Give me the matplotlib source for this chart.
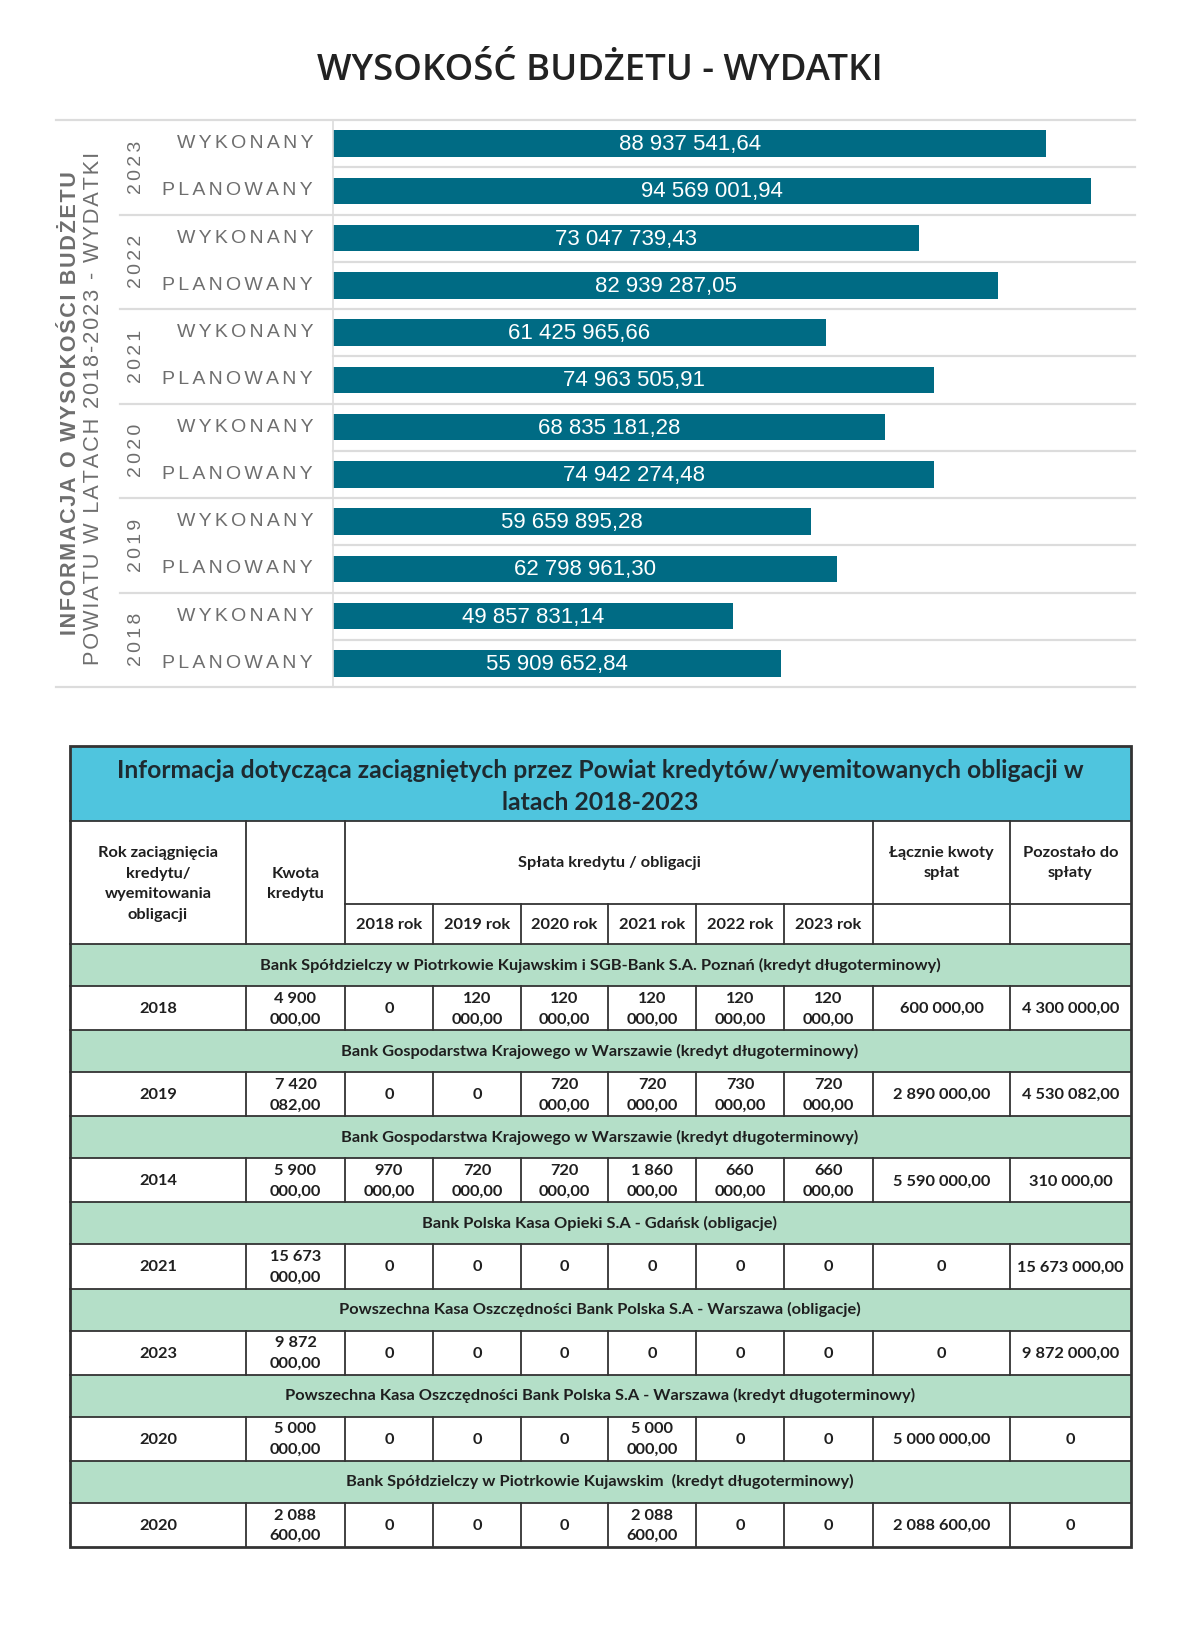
import matplotlib
matplotlib.use('Agg')
import matplotlib.pyplot as plt
from matplotlib.patches import Rectangle

# ---- data: budget bars (top to bottom) ----
years = ['2023', '2022', '2021', '2020', '2019', '2018']
kinds = ['WYKONANY', 'PLANOWANY']
wykonany = [88937541.64, 73047739.43, 61425965.66, 68835181.28, 59659895.28, 49857831.14]
planowany = [94569001.94, 82939287.05, 74963505.91, 74942274.48, 62798961.30, 55909652.84]

# ---- data: credits table ----
banks = [
    'Bank Spółdzielczy w Piotrkowie Kujawskim i SGB-Bank S.A. Poznań (kredyt długoterminowy)',
    'Bank Gospodarstwa Krajowego w Warszawie (kredyt długoterminowy)',
    'Bank Gospodarstwa Krajowego w Warszawie (kredyt długoterminowy)',
    'Bank Polska Kasa Opieki S.A - Gdańsk (obligacje)',
    'Powszechna Kasa Oszczędności Bank Polska S.A - Warszawa (obligacje)',
    'Powszechna Kasa Oszczędności Bank Polska S.A - Warszawa (kredyt długoterminowy)',
    'Bank Spółdzielczy w Piotrkowie Kujawskim  (kredyt długoterminowy)',
]
loan_year = ['2018', '2019', '2014', '2021', '2023', '2020', '2020']
loan_amount = [4900000, 7420082, 5900000, 15673000, 9872000, 5000000, 2088600]
repay_years = ['2018 rok', '2019 rok', '2020 rok', '2021 rok', '2022 rok', '2023 rok']
repayments = [
    [0, 120000, 120000, 120000, 120000, 120000],
    [0, 0, 720000, 720000, 730000, 720000],
    [970000, 720000, 720000, 1860000, 660000, 660000],
    [0, 0, 0, 0, 0, 0],
    [0, 0, 0, 0, 0, 0],
    [0, 0, 0, 5000000, 0, 0],
    [0, 0, 0, 2088600, 0, 0],
]
repaid_total = [600000, 2890000, 5590000, 0, 0, 5000000, 2088600]
remaining = [4300000, 4530082, 310000, 15673000, 9872000, 0, 0]


def pl(v):
    if v == 0:
        return '0'
    return f'{v:,.2f}'.replace(',', ' ').replace('.', ',')


def pl2(v):
    s = pl(v)
    if ' ' in s:
        a, b = s.rsplit(' ', 1)
        return a + '\n' + b
    return s


def spaced(s, n=1):
    return ('\u200a' * n).join(s)


W, H = 1200, 1630
fig = plt.figure(figsize=(W / 100, H / 100), dpi=100)

# overlay in pixel coordinates for table and decorations
ov = fig.add_axes([0, 0, 1, 1])
ov.set_xlim(0, W)
ov.set_ylim(H, 0)
ov.axis('off')

fig.text(0.5, 1 - 71 / H, 'WYSOKOŚĆ BUDŻETU - WYDATKI', ha='center', va='center',
         fontsize=26.3, fontweight='semibold', family='Open Sans', color='#222222')

# ---- bar chart ----
X0, X1, Y0, Y1 = 333, 1135, 120, 687
ax = fig.add_axes([X0 / W, 1 - Y1 / H, (X1 - X0) / W, (Y1 - Y0) / H])
ax.patch.set_alpha(0)
vals, labs = [], []
for w, p in zip(wykonany, planowany):
    vals += [w, p]
    labs += kinds
pos = list(range(len(vals)))
bar_color = '#006b84'
ax.barh(pos, vals, height=0.56, color=bar_color)
ax.set_xlim(0, 100e6)
ax.set_ylim(len(vals) - 0.5, -0.5)
ax.axis('off')

SANS = ['Liberation Sans', 'DejaVu Sans']
grey = '#6e6e6e'
def fx(px):
    return (px - X0) / (X1 - X0)

tr = ax.get_yaxis_transform()
for i, (v, lab) in enumerate(zip(vals, labs)):
    ax.text(v / 2, i + 0.02, pl(v), ha='center', va='center', color='white',
            fontsize=16, family=SANS)
    ax.text(fx(313), i, spaced(lab, 2), transform=tr, ha='right', va='center',
            color=grey, fontsize=14, family=SANS, clip_on=False)
for k, y in enumerate(years):
    ax.text(fx(136), 2 * k + 0.5, spaced(y, 2), transform=tr, rotation=90,
            ha='center', va='center', color=grey, fontsize=14, family=SANS)

# separators
line_c = '#dcdcdc'
for b in range(len(vals) + 1):
    yb = b - 0.5
    if b == 0 or b == len(vals):
        xs = fx(56)
    elif b % 2 == 0:
        xs = fx(120)
    else:
        xs = 0
    ax.plot([xs, 1], [yb, yb], transform=tr, color=line_c, lw=1.6, clip_on=False)
ax.plot([0, 0], [-0.5, len(vals) - 0.5], transform=tr, color=line_c, lw=1.2, clip_on=False)

mid = (len(vals) - 1) / 2
ax.text(fx(70), mid, spaced('INFORMACJA O WYSOKOŚCI BUDŻETU'), transform=tr, rotation=90,
        ha='center', va='center', color=grey, fontsize=15.5, fontweight='bold', family=SANS)
ax.text(fx(93), mid + 0.1, spaced('POWIATU W LATACH 2018-2023 - WYDATKI'), transform=tr,
        rotation=90, ha='center', va='center', color=grey, fontsize=15.7, family=SANS)

# ---- table ----
TF = ['Lato', 'DejaVu Sans']
dark = '#1f1f1f'
edge = '#333333'
cols = [70, 246, 345, 433, 521, 608, 696, 784, 873, 1010, 1131]
T0, T_band, T_sub, T_head = 746, 821, 904, 944
GH, DH = 42, 44.14

ov.add_patch(Rectangle((cols[0], T0), cols[-1] - cols[0], T_band - T0,
                       facecolor='#4fc5de', edgecolor='none'))
ov.text(600, 771, 'Informacja dotycząca zaciągniętych przez Powiat kredytów/wyemitowanych obligacji w',
        ha='center', va='center', fontsize=17.8, fontweight='bold', family=TF, color='#1e2a30')
ov.text(600, 802, 'latach 2018-2023', ha='center', va='center', fontsize=17.8,
        fontweight='bold', family=TF, color='#1e2a30')

hkw = dict(ha='center', va='center', fontsize=11.8, fontweight='bold', family=TF,
           color=dark, linespacing=1.6)
ov.text((cols[0] + cols[1]) / 2, 884, 'Rok zaciągnięcia\nkredytu/\nwyemitowania\nobligacji', **hkw)
ov.text((cols[1] + cols[2]) / 2, 884, 'Kwota\nkredytu', **hkw)
ov.text((cols[2] + cols[8]) / 2, 863, 'Spłata kredytu / obligacji', **hkw)
ov.text((cols[8] + cols[9]) / 2, 863, 'Łącznie kwoty\nspłat', **hkw)
ov.text((cols[9] + cols[10]) / 2, 863, 'Pozostało do\nspłaty', **hkw)
for j, ry in enumerate(repay_years):
    ov.text((cols[2 + j] + cols[3 + j]) / 2, (T_sub + T_head) / 2 + 1, ry, **hkw)

lw_in = 1.3
ov.plot([cols[0], cols[-1]], [T_band, T_band], color=edge, lw=lw_in)
ov.plot([cols[2], cols[-1]], [T_sub, T_sub], color=edge, lw=lw_in)
for c in (cols[1], cols[2], cols[8], cols[9]):
    ov.plot([c, c], [T_band, T_head], color=edge, lw=lw_in)
for c in cols[3:8]:
    ov.plot([c, c], [T_sub, T_head], color=edge, lw=lw_in)

y = T_head
for r in range(len(banks)):
    ov.add_patch(Rectangle((cols[0], y), cols[-1] - cols[0], GH,
                           facecolor='#b4dfc8', edgecolor='none'))
    ov.plot([cols[0], cols[-1]], [y, y], color=edge, lw=lw_in)
    ov.text(600, y + GH / 2, banks[r], **hkw)
    y += GH
    ov.plot([cols[0], cols[-1]], [y, y], color=edge, lw=lw_in)
    cells = [loan_year[r], pl2(loan_amount[r])] + [pl2(v) for v in repayments[r]] + \
            [pl(repaid_total[r]), pl(remaining[r])]
    for j, s in enumerate(cells):
        ov.text((cols[j] + cols[j + 1]) / 2, y + DH / 2 + 1, s, **hkw)
    for c in cols[1:-1]:
        ov.plot([c, c], [y, y + DH], color=edge, lw=lw_in)
    y += DH

ov.add_patch(Rectangle((cols[0], T0), cols[-1] - cols[0], y - T0,
                       facecolor='none', edgecolor=edge, lw=2.0))

fig.savefig('out.png', dpi=100)
